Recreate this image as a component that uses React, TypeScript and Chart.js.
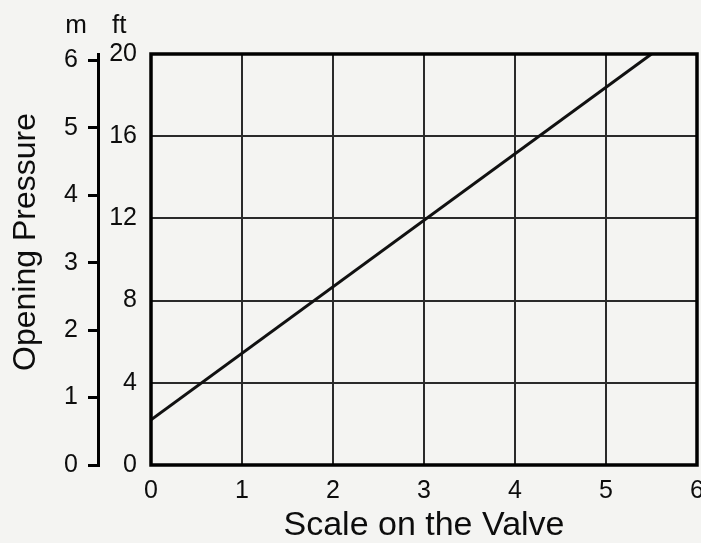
import React, { useEffect, useRef } from 'react';
import { Chart, registerables } from 'chart.js';

Chart.register(...registerables);

// Data
const scaleOnValve = [0, 5.5];
const openingPressureFt = [2.2, 20];

// Tick labels
const xTickValues = [0, 1, 2, 3, 4, 5, 6];
const ftTickValues = [0, 4, 8, 12, 16, 20];
const mTickValues = [0, 1, 2, 3, 4, 5, 6];

const FT_MAX = 20;
const FT_TO_M = 0.3048;

const xTitle = 'Scale on the Valve';
const yTitle = 'Opening Pressure';
const mUnit = 'm';
const ftUnit = 'ft';

const FONT = '"Liberation Sans", Arial, Helvetica, sans-serif';
const INK = '#0d0d0d';
const BG = '#f4f4f2';

export default function App() {
  const canvasRef = useRef<HTMLCanvasElement | null>(null);

  useEffect(() => {
    const canvas = canvasRef.current;
    if (!canvas) return;

    const decor = {
      id: 'decor',
      beforeDraw(chart: any) {
        const { ctx } = chart;
        ctx.save();
        ctx.fillStyle = BG;
        ctx.fillRect(0, 0, chart.width, chart.height);
        ctx.restore();
      },
      afterDraw(chart: any) {
        const { ctx, chartArea } = chart;
        ctx.save();
        // frame
        ctx.strokeStyle = '#000';
        ctx.lineWidth = 3.5;
        ctx.strokeRect(chartArea.left, chartArea.top, chartArea.right - chartArea.left, chartArea.bottom - chartArea.top);
        // unit labels
        ctx.fillStyle = INK;
        ctx.font = `26px ${FONT}`;
        ctx.textBaseline = 'alphabetic';
        ctx.textAlign = 'center';
        ctx.fillText(mUnit, 76, 33);
        ctx.textAlign = 'left';
        ctx.fillText(ftUnit, 112, 33);
        // vertical title
        ctx.translate(35, 242);
        ctx.rotate(-Math.PI / 2);
        ctx.font = `32px ${FONT}`;
        ctx.textAlign = 'center';
        ctx.textBaseline = 'alphabetic';
        ctx.fillText(yTitle, 0, 0);
        ctx.restore();
      },
    };

    const tickFont = { family: FONT, size: 25 };

    const chart = new Chart(canvas, {
      type: 'line',
      data: {
        datasets: [
          {
            data: scaleOnValve.map((x, i) => ({ x, y: openingPressureFt[i] })),
            borderColor: '#111',
            borderWidth: 3,
            pointRadius: 0,
            tension: 0,
            yAxisID: 'yft',
            xAxisID: 'x',
          },
        ],
      },
      options: {
        animation: false,
        responsive: false,
        maintainAspectRatio: false,
        layout: { padding: { top: 54, right: 4, bottom: 0, left: 0 } },
        plugins: { legend: { display: false }, tooltip: { enabled: false } },
        scales: {
          x: {
            type: 'linear',
            position: 'bottom',
            min: 0,
            max: 6,
            afterBuildTicks: (s: any) => { s.ticks = xTickValues.map((v) => ({ value: v })); },
            afterFit: (s: any) => { s.height = 78; s.paddingRight = 0; s.paddingLeft = 0; },
            grid: { color: '#2a2a2a', lineWidth: 2, drawTicks: false },
            border: { display: false },
            ticks: { color: INK, font: tickFont, padding: 11, maxRotation: 0, autoSkip: false },
            title: { display: true, text: xTitle, color: INK, font: { family: FONT, size: 34, lineHeight: 1 }, padding: { top: 0, bottom: 0 } },
          },
          yft: {
            type: 'linear',
            position: 'left',
            weight: 0,
            min: 0,
            max: FT_MAX,
            afterBuildTicks: (s: any) => { s.ticks = ftTickValues.map((v) => ({ value: v })); },
            afterFit: (s: any) => { s.width = 53; },
            grid: { color: '#2a2a2a', lineWidth: 2, drawTicks: false },
            border: { display: false },
            ticks: { color: INK, font: tickFont, padding: 14, autoSkip: false },
          },
          ym: {
            type: 'linear',
            position: 'left',
            weight: 10,
            min: 0,
            max: FT_MAX * FT_TO_M,
            afterBuildTicks: (s: any) => { s.ticks = mTickValues.map((v) => ({ value: v })); },
            afterFit: (s: any) => { s.width = 98; },
            grid: { drawOnChartArea: false, drawTicks: true, tickLength: 10, color: '#000', lineWidth: 3 },
            border: { display: true, color: '#000', width: 3 },
            ticks: { color: INK, font: tickFont, padding: 10, autoSkip: false },
          },
        },
      },
      plugins: [decor],
    } as any);

    return () => chart.destroy();
  }, []);

  return (
    <div style={{ position: 'fixed', left: 0, top: 0, width: 701, height: 543, overflow: 'hidden', background: BG }}>
      <canvas ref={canvasRef} width={701} height={543} style={{ width: 701, height: 543, display: 'block' }} />
    </div>
  );
}
